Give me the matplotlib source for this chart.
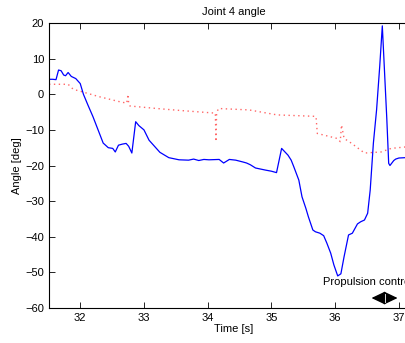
import matplotlib
matplotlib.use("Agg")
import matplotlib.pyplot as plt
import numpy as np

plt.rcParams['font.family'] = ['Liberation Sans', 'DejaVu Sans']

# Measured joint angle (blue)
t_meas = [31.51, 31.57, 31.62, 31.66, 31.70, 31.74, 31.77, 31.81, 31.86, 31.93,
          32.00, 32.05, 32.12, 32.20, 32.28, 32.36, 32.44, 32.51, 32.55, 32.60,
          32.66, 32.72, 32.76, 32.81, 32.87, 32.92, 33.00, 33.08, 33.16, 33.25,
          33.39, 33.55, 33.70, 33.78, 33.86, 33.94, 34.02, 34.18, 34.25, 34.34,
          34.44, 34.55, 34.61, 34.67, 34.75, 34.83, 34.91, 35.00, 35.08, 35.16,
          35.26, 35.31, 35.35, 35.43, 35.48, 35.54, 35.58, 35.65, 35.69, 35.76,
          35.82, 35.87, 35.93, 35.98, 36.04, 36.09, 36.14, 36.21, 36.27, 36.35,
          36.40, 36.46, 36.51, 36.55, 36.60, 36.65, 36.70, 36.74, 36.81, 36.84,
          36.86, 36.89, 36.92, 36.95, 37.00, 37.10]
v_meas = [4.2, 4.2, 4.1, 6.8, 6.6, 5.4, 5.2, 6.1, 5.0, 4.4,
          3.0, 0.0, -3.0, -6.3, -10.0, -13.7, -15.0, -15.2, -16.2, -14.3,
          -14.0, -13.8, -14.6, -16.5, -7.7, -8.8, -10.0, -12.9, -14.5, -16.3,
          -17.8, -18.4, -18.5, -18.2, -18.6, -18.3, -18.4, -18.3, -19.3, -18.3,
          -18.5, -19.0, -19.3, -19.8, -20.7, -21.0, -21.3, -21.6, -22.0, -15.2,
          -17.1, -18.5, -20.3, -24.1, -28.8, -32.0, -34.4, -38.1, -38.6, -39.0,
          -39.7, -41.8, -44.6, -47.9, -51.0, -50.4, -45.6, -39.5, -39.0, -36.4,
          -35.8, -35.3, -33.4, -26.9, -13.7, -4.4, 8.0, 19.2, -6.7, -19.4,
          -20.0, -19.3, -18.6, -18.2, -17.9, -17.8]

# Reference joint angle (red, dotted)
t_ref = [31.51, 31.81, 31.89, 32.30, 32.62, 32.73, 32.75, 32.76, 32.78, 33.20,
         33.60, 34.12, 34.13, 34.14, 34.17, 34.65, 35.09, 35.69, 35.70, 35.72,
         36.03, 36.08, 36.10, 36.14, 36.26, 36.46, 36.72, 36.88, 37.10]
v_ref = [2.8, 2.8, 1.4, -0.7, -2.1, -2.5, 0.0, -2.6, -3.3, -4.0,
         -4.6, -5.3, -13.3, -5.2, -4.0, -4.4, -5.8, -6.2, -6.3, -11.0,
         -12.4, -13.3, -8.6, -12.4, -13.8, -16.5, -16.2, -15.2, -14.8]

xticks = [32, 33, 34, 35, 36, 37]
yticks = [-60, -50, -40, -30, -20, -10, 0, 10, 20]

fig = plt.figure(figsize=(4.05, 3.43), dpi=100)
ax = fig.add_axes([49/405, 35/343, 369/405, 285/343])

ax.plot(t_ref, v_ref, linestyle=(0, (1, 2.5)), color='#ff6666', lw=1.0)
ax.plot(t_meas, v_meas, color='#0000ff', lw=0.9)

ax.set_xlim(31.51, 37.3)
ax.set_ylim(-60, 20)
ax.set_xticks(xticks)
ax.set_yticks(yticks)
ax.tick_params(direction='in', length=4, labelsize=8, top=True, right=True,
               width=0.6)
for s in ax.spines.values():
    s.set_linewidth(0.8)

ax.set_title('Joint 4 angle', fontsize=8, pad=6)
ax.set_xlabel('Time [s]', fontsize=8, labelpad=1)
ax.set_ylabel('Angle [deg]', fontsize=8, labelpad=2)

ax.text(35.81, -52.7, 'Propulsion control', fontsize=8, va='center', ha='left',
        clip_on=False)
# Double arrow marking the propulsion-control interval
arrow_mid = 36.775
head = '-|>,head_length=0.42,head_width=0.2'
for end in (36.57, 36.98):
    ax.annotate('', xy=(end, -57.2), xytext=(arrow_mid, -57.2),
                arrowprops=dict(arrowstyle=head, color='black', lw=1.0,
                                mutation_scale=20, shrinkA=0, shrinkB=0))
ax.plot([arrow_mid, arrow_mid], [-58.4, -56.0], color='white', lw=0.6,
        zorder=10)

fig.savefig('out.png', dpi=100)
